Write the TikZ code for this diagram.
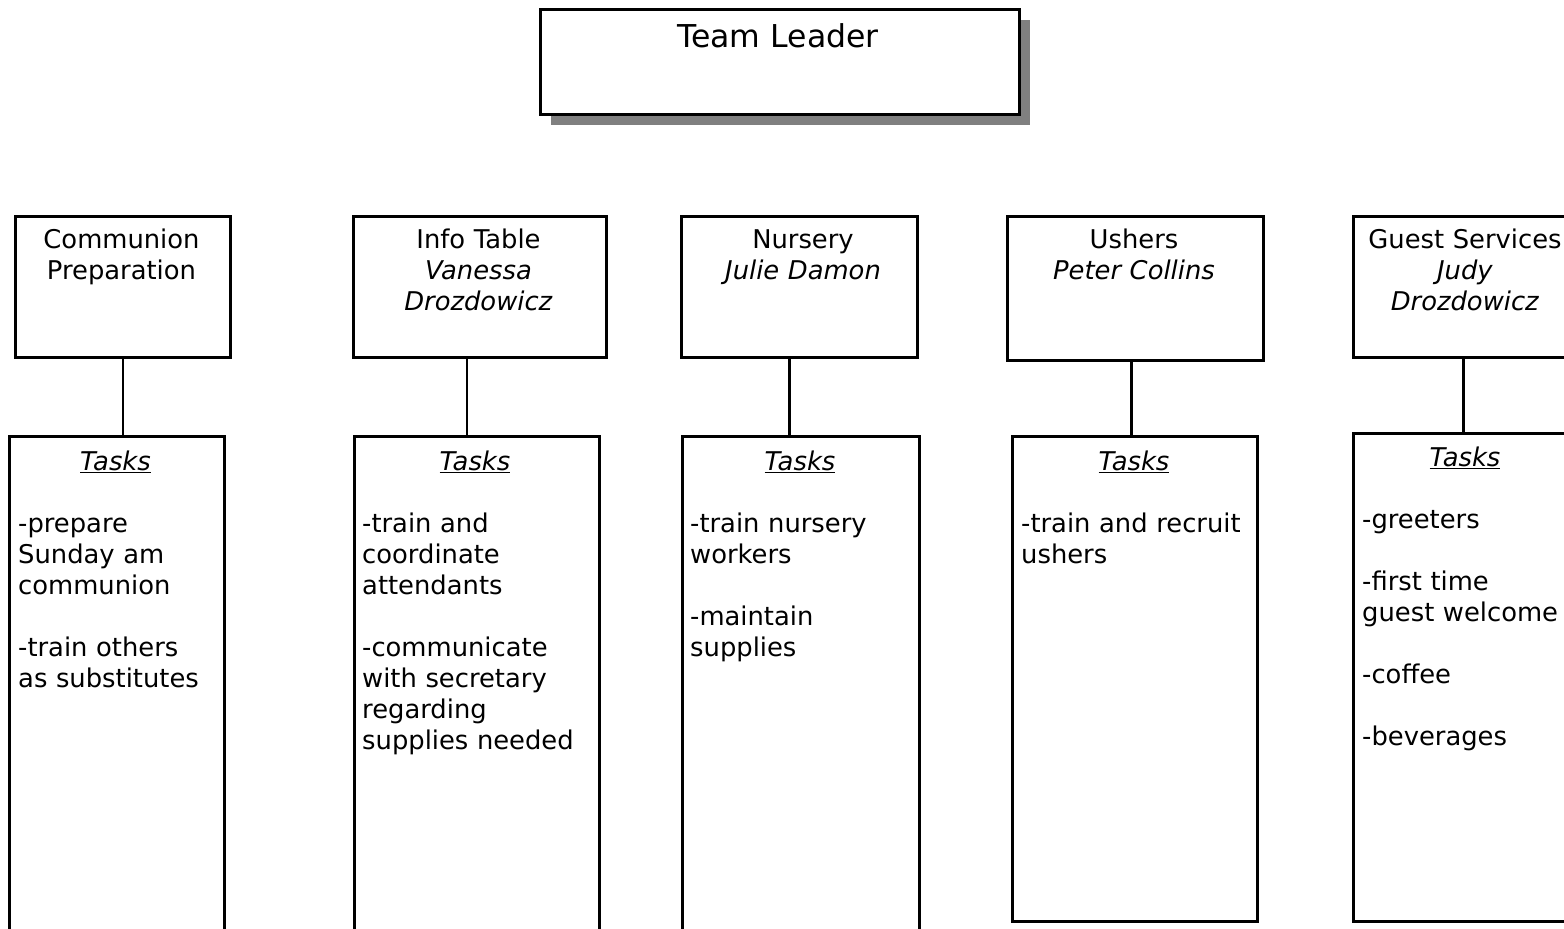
\documentclass[tikz,border=0pt]{standalone}
\usepackage{fontspec}
\setmainfont{DejaVu Sans}
\usetikzlibrary{shadows}
\definecolor{shadowgray}{HTML}{808080}
\begin{document}
\begin{tikzpicture}[x=1pt,y=-1pt,
  box/.style={draw=black, line width=2.9pt, fill=white, anchor=north west, inner sep=0pt},
  link/.style={line width=2.5pt},
  txt/.style={font=\fontsize{25.8}{31}\selectfont, inner sep=0pt},
  head/.style={txt, anchor=base, align=center, text width=#1},
  list/.style={txt, anchor=base west, align=left, text width=#1},
  tasks/.style={txt, anchor=base}
]
\useasboundingbox (0,0) rectangle (1564,929);
\fill[white] (0,0) rectangle (1564,929);
\clip (0,0) rectangle (1564,929);

% team leader box with its drop shadow
\node[box, minimum width=479pt, minimum height=105pt,
      general shadow={fill=shadowgray, shadow xshift=11pt, shadow yshift=-11pt}] (lead) at (539,8) {};
\node[txt, anchor=base, font=\fontsize{31.5}{38}\selectfont] (leadT) at (778,47) {Team Leader};

% ministry boxes
\node[box, minimum width=215pt, minimum height=141pt] (comm)  at (14,215) {};
\node[box, minimum width=253pt, minimum height=141pt] (info)  at (352,215) {};
\node[box, minimum width=236pt, minimum height=141pt] (nurs)  at (680,215) {};
\node[box, minimum width=256pt, minimum height=144pt] (ush)   at (1006,215) {};
\node[box, minimum width=230pt, minimum height=141pt] (guest) at (1352,215) {};

% task boxes
\node[box, minimum width=215pt, minimum height=540pt] (commT)  at (8,435) {};
\node[box, minimum width=245pt, minimum height=540pt] (infoT)  at (353,435) {};
\node[box, minimum width=237pt, minimum height=540pt] (nursT)  at (681,435) {};
\node[box, minimum width=245pt, minimum height=485pt] (ushT)   at (1011,435) {};
\node[box, minimum width=226pt, minimum height=488pt] (guestT) at (1352,432) {};

% connectors
\draw[link] (comm.south) -- (comm.south |- commT.north);
\draw[link] ([xshift=-13pt]info.south) -- ([xshift=-13pt]info.south |- infoT.north);
\draw[link] ([xshift=-10pt]nurs.south) -- ([xshift=-10pt]nurs.south |- nursT.north);
\draw[link] ([xshift=-4pt]ush.south) -- ([xshift=-4pt]ush.south |- ushT.north);
\draw[link] ([xshift=-5pt]guest.south) -- ([xshift=-5pt]guest.south |- guestT.north);

% ministry titles
\node[head=210pt] (commH)  at (121.5,248) {Communion\\Preparation};
\node[head=250pt] (infoH)  at (478.5,248) {Info Table\\\textit{Vanessa}\\\textit{Drozdowicz}};
\node[head=236pt] (nursH)  at (803,248)   {Nursery\\\textit{Julie Damon}};
\node[head=256pt] (ushH)   at (1134,248)  {Ushers\\\textit{Peter Collins}};
\node[head=230pt] (guestH) at (1465,248)  {Guest Services\\\textit{Judy}\\\textit{Drozdowicz}};

% task headings
\node[tasks] (commK)  at (115.5,470) {\underline{\textit{Tasks}}};
\node[tasks] (infoK)  at (475,470)   {\underline{\textit{Tasks}}};
\node[tasks] (nursK)  at (800,470)   {\underline{\textit{Tasks}}};
\node[tasks] (ushK)   at (1134,470)  {\underline{\textit{Tasks}}};
\node[tasks] (guestK) at (1465,466)  {\underline{\textit{Tasks}}};

% task lists
\node[list=210pt] (commL)  at (18,532)   {-prepare\\Sunday am\\communion\\[31pt]-train others\\as substitutes};
\node[list=240pt] (infoL)  at (362,532)  {-train and\\coordinate\\attendants\\[31pt]-communicate\\with secretary\\regarding\\supplies needed};
\node[list=230pt] (nursL)  at (690,532)  {-train nursery\\workers\\[31pt]-maintain\\supplies};
\node[list=240pt] (ushL)   at (1021,532) {-train and recruit\\ushers};
\node[list=220pt] (guestL) at (1362,528) {-greeters\\[31pt]-first time\\guest welcome\\[31pt]-coffee\\[31pt]-beverages};
\end{tikzpicture}
\end{document}
